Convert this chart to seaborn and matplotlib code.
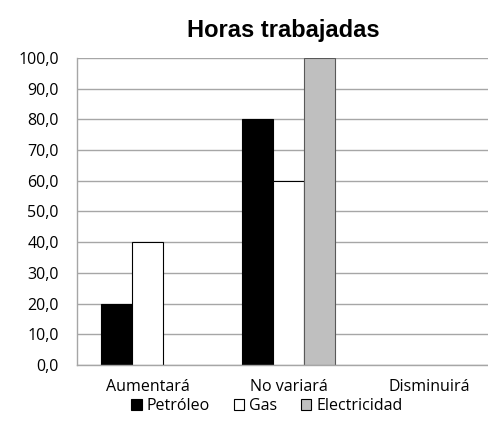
import pandas as pd
import numpy as np
import matplotlib
matplotlib.use("Agg")
import matplotlib.pyplot as plt
import seaborn as sns

# Data
categorias = ["Aumentará", "No variará", "Disminuirá"]
petroleo = [20.0, 80.0, np.nan]
gas = [40.0, 60.0, np.nan]
electricidad = [np.nan, 100.0, np.nan]
series = ["Petróleo", "Gas", "Electricidad"]
colores = ["#000000", "#FFFFFF", "#BFBFBF"]
yticks = np.arange(0, 101, 10)

df = pd.DataFrame({
    "categoria": categorias * 3,
    "serie": [s for s in series for _ in categorias],
    "valor": petroleo + gas + electricidad,
})

sns.set_theme(style="white")
plt.rcParams["font.family"] = ["Open Sans", "DejaVu Sans"]
plt.rcParams["text.color"] = "black"

fig = plt.figure(figsize=(4.89, 4.30), dpi=100)
ax = fig.add_axes([77 / 489, 1 - 365 / 430, 423 / 489, (365 - 58) / 430])

sns.barplot(data=df, x="categoria", y="valor", hue="serie", order=categorias,
            hue_order=series, palette=colores, width=0.66, saturation=1,
            edgecolor="#000000", linewidth=0.8, ax=ax, legend=True)

# Electricity bar has a darker grey edge
for bar in ax.containers[2]:
    bar.set_edgecolor("#595959")

ax.set_ylim(0, 100)
ax.set_xlim(-0.5, 2.5)
ax.set_yticks(yticks)
ax.set_yticklabels([f"{v:.1f}".replace(".", ",") for v in yticks], fontsize=11.5,
                   color="black")
ax.yaxis.grid(True, color="#A6A6A6", linewidth=1)
ax.set_axisbelow(True)

ax.set_xticks([0, 1, 2])
ax.set_xticklabels(categorias, fontsize=11.5, color="black")
ax.set_xticks([0.5, 1.5], minor=True)
ax.tick_params(axis="x", which="major", length=0, pad=10)
ax.tick_params(axis="x", which="minor", length=5, color="#A6A6A6", width=1,
               direction="out")
ax.tick_params(axis="y", length=5, color="#A6A6A6", width=1, direction="out", pad=8)
ax.set_xlabel("")
ax.set_ylabel("")

for side in ["top", "right"]:
    ax.spines[side].set_visible(False)
for side in ["left", "bottom"]:
    ax.spines[side].set_color("#A6A6A6")
    ax.spines[side].set_linewidth(1)

fig.text(283 / 489, 1 - 31 / 430, "Horas trabajadas", ha="center", va="center",
         fontsize=17, fontweight="bold", family="Liberation Sans", color="black")

handles, labels = ax.get_legend_handles_labels()
ax.get_legend().remove()
fig.legend(handles, labels, loc="center", bbox_to_anchor=(267 / 489, 1 - 406 / 430),
           ncol=3, frameon=False, fontsize=11.5, handlelength=0.65,
           handleheight=0.65, handletextpad=0.3, columnspacing=1.5,
           borderaxespad=0)

fig.savefig("out.png", dpi=100)
